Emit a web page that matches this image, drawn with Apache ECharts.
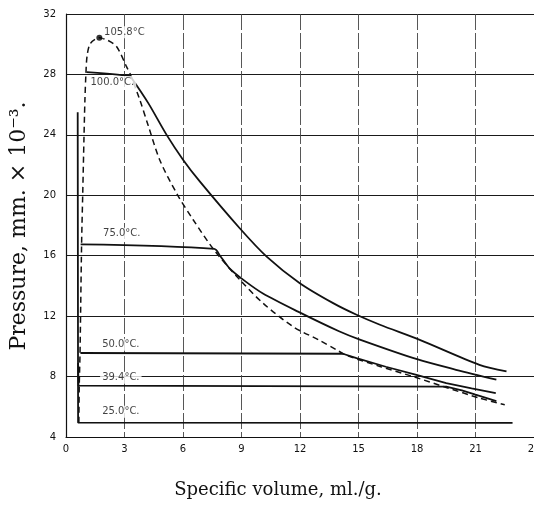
<!DOCTYPE html>
<html><head><meta charset="utf-8">
<script src="https://cdn.jsdelivr.net/npm/echarts@6/dist/echarts.min.js"></script>
<style>html,body{margin:0;padding:0;background:#fff}#c{width:534px;height:505px}</style>
</head><body><div id="c"></div>
<script>
// Axis ticks
const xTickValues = [0, 3, 6, 9, 12, 15, 18, 21, 24];
const yTickValues = [4, 8, 12, 16, 20, 24, 28, 32];

// Isotherm 100.0 °C (specific volume, pressure)
const iso100V = [1.06, 3.25, 3.37, 4.22, 5.16, 6.01, 6.87, 8.92, 10.29, 11.99, 13.7, 14.9, 16.1, 18.14, 21.2, 22.59];
const iso100P = [28.15, 27.9, 27.75, 26.1, 24.0, 22.34, 20.9, 17.8, 15.94, 14.18, 12.86, 12.09, 11.43, 10.43, 8.78, 8.34];

// Isotherm 75.0 °C
const iso75V = [0.75, 7.6, 7.9, 8.4, 9.2, 10.1, 11.9, 14.0, 15.07, 18.0, 20.0, 22.07];
const iso75P = [16.75, 16.45, 16.0, 15.15, 14.3, 13.5, 12.3, 11.0, 10.45, 9.15, 8.45, 7.79];

// Isotherm 50.0 °C
const iso50V = [0.74, 14.2, 14.9, 16.4, 17.97, 19.5, 20.8, 22.04];
const iso50P = [9.56, 9.51, 9.22, 8.65, 8.12, 7.57, 7.22, 6.91];

// Isotherm 39.4 °C
const iso39V = [0.62, 0.64, 19.5, 20.3, 21.0, 22.07];
const iso39P = [8.9, 7.4, 7.33, 7.08, 6.8, 6.38];

// Isotherm 25.0 °C
const iso25V = [0.6, 0.62, 22.9];
const iso25P = [25.5, 4.95, 4.93];

// Saturation (dashed) boundary
const domeV = [0.66, 0.68, 0.72, 0.80, 0.86, 0.92, 0.97, 1.02, 1.08, 1.25, 1.71, 2.15, 2.6, 3.11, 3.3, 3.79, 4.22, 4.82, 5.67, 6.52, 7.64, 8.92, 10.1, 11.65, 13.0, 13.87, 14.4, 16.1, 17.8, 19.5, 21.2, 22.5];
const domeP = [4.95, 7.45, 9.6, 16.8, 20.2, 23.7, 26.3, 28.0, 29.2, 30.05, 30.43, 30.25, 29.83, 28.5, 28.0, 26.3, 24.6, 22.3, 20.14, 18.38, 16.3, 14.4, 12.86, 11.3, 10.4, 9.77, 9.4, 8.67, 8.0, 7.28, 6.58, 6.14];

// Critical point
const critV = [1.71];
const critP = [30.43];

// Temperature annotations
const labelTexts = ['105.8°C', '100.0°C.', '75.0°C.', '50.0°C.', '39.4°C.', '25.0°C.'];
const labelV = [1.85, 1.15, 1.8, 1.75, 1.75, 1.75];
const labelP = [30.8, 27.5, 17.45, 10.1, 7.92, 5.67];

const zip = (a, b) => a.map((v, i) => [v, b[i]]);
const chart = echarts.init(document.getElementById('c'), null, {renderer: 'canvas'});
const lineCol = '#111';
const solid = (name, v, p, smooth) => ({
  name, type: 'line', data: zip(v, p), showSymbol: false, symbol: 'none',
  smooth: smooth ? 0.3 : false,
  lineStyle: {color: lineCol, width: 1.8}, z: 3, silent: true
});

chart.setOption({
  animation: false,
  backgroundColor: '#fff',
  grid: {left: 66, right: 0, top: 14, bottom: 68, containLabel: false, outerBoundsMode: 'none'},
  xAxis: {
    type: 'value', min: xTickValues[0], max: xTickValues[xTickValues.length - 1], interval: 3,
    axisLine: {show: true, lineStyle: {color: '#111', width: 1.2}},
    axisTick: {show: false},
    axisLabel: {color: '#111', fontFamily: 'DejaVu Sans', fontSize: 10, margin: 7, showMaxLabel: true},
    splitLine: {show: true, lineStyle: {color: '#444', width: 0.9, type: [16, 3]}}
  },
  yAxis: {
    type: 'value', min: yTickValues[0], max: yTickValues[yTickValues.length - 1], interval: 4,
    axisLine: {show: true, lineStyle: {color: '#111', width: 1.2}},
    axisTick: {show: false},
    axisLabel: {color: '#111', fontFamily: 'DejaVu Sans', fontSize: 10, margin: 10},
    splitLine: {show: true, lineStyle: {color: '#1a1a1a', width: 1.2}}
  },
  graphic: [
    {type: 'text', x: 278, y: 490, style: {text: 'Specific volume, ml./g.', font: '18px "DejaVu Serif"', fill: '#111', align: 'center', verticalAlign: 'middle'}},
    {type: 'text', x: 19, y: 226, rotation: Math.PI / 2, style: {text: 'Pressure, mm. × 10⁻³.', font: '22px "DejaVu Serif"', fill: '#111', align: 'center', verticalAlign: 'middle'}}
  ],
  series: [
    solid('100.0°C', iso100V, iso100P, true),
    solid('75.0°C', iso75V, iso75P, true),
    solid('50.0°C', iso50V, iso50P, false),
    solid('39.4°C', iso39V, iso39P, false),
    solid('25.0°C', iso25V, iso25P, false),
    {
      name: 'saturation', type: 'line', data: zip(domeV, domeP), showSymbol: false, symbol: 'none',
      smooth: 0.3,
      lineStyle: {color: lineCol, width: 1.5, type: [6, 4]}, z: 3, silent: true
    },
    {
      name: 'critical', type: 'scatter', data: zip(critV, critP), symbol: 'circle', symbolSize: 6,
      itemStyle: {color: '#000'}, z: 5, silent: true
    },
    {
      name: 'labels', type: 'scatter', symbolSize: 0, z: 4, silent: true,
      data: labelTexts.map((t, i) => ({value: [labelV[i], labelP[i]], name: t})),
      label: {
        show: true, position: 'right', distance: 0, formatter: p => p.name,
        color: '#111', fontFamily: 'DejaVu Sans', fontSize: 10,
        backgroundColor: '#fff', padding: [1, 2], verticalAlign: 'middle'
      }
    }
  ]
});
</script>
</body></html>
